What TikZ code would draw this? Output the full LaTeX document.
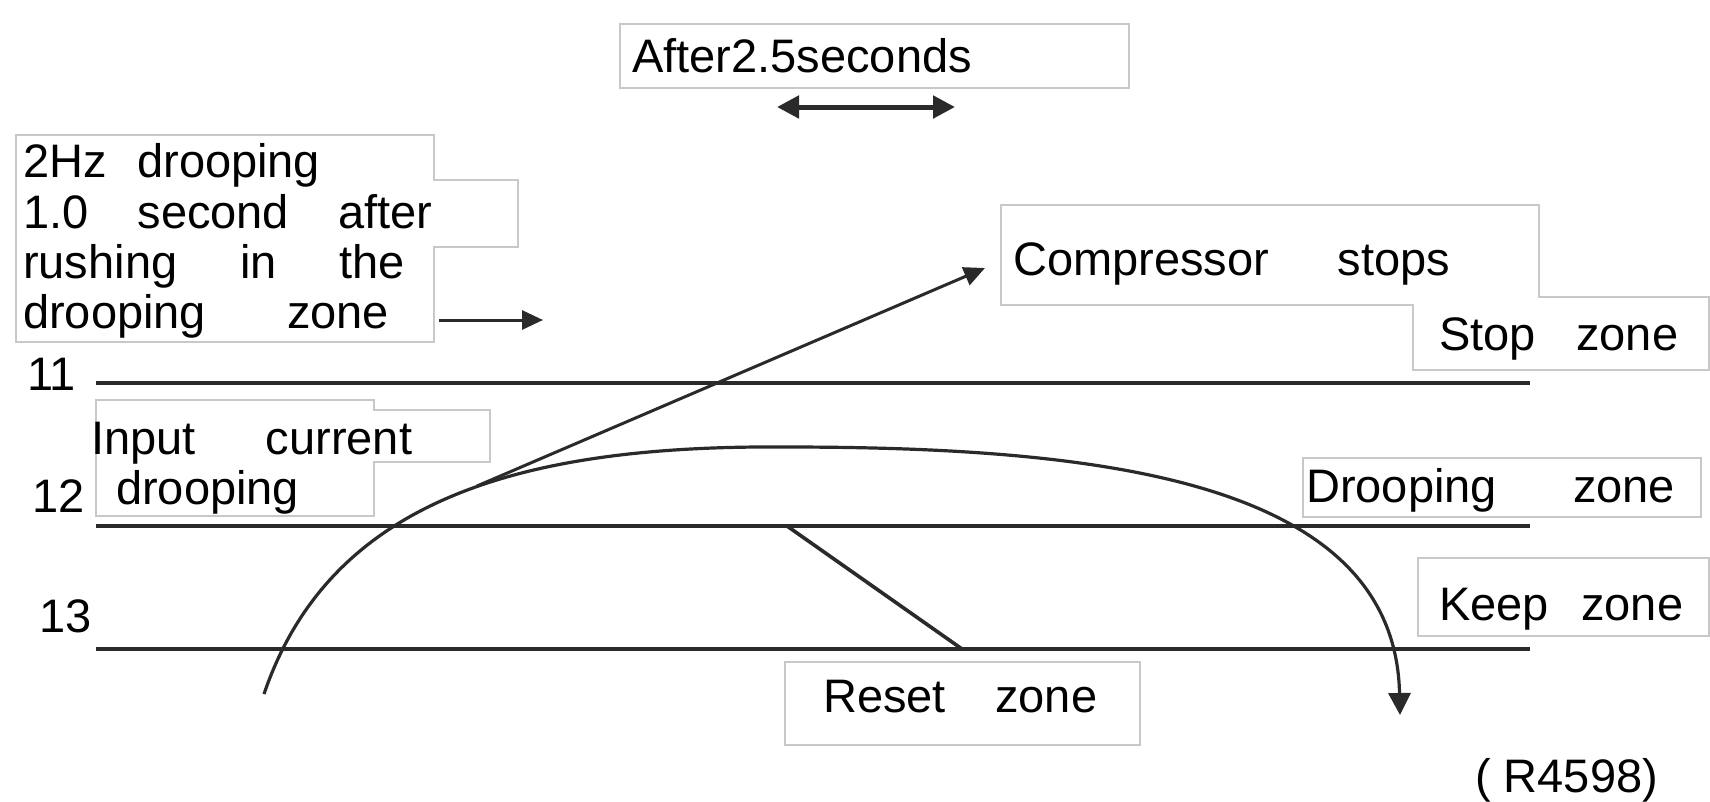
\documentclass[tikz,border=0pt]{standalone}
\usepackage{fontspec}
\setmainfont{Liberation Sans}
\usetikzlibrary{arrows.meta}
\definecolor{boxgray}{HTML}{C8C8C8}
\definecolor{linegray}{HTML}{2A2A2A}
\begin{document}
\begin{tikzpicture}[x=1pt,y=-1pt,
  lbl/.style={inner sep=0pt, anchor=base west, font=\fontsize{47}{51}\selectfont},
  frame/.style={draw=boxgray, line width=1.6pt},
  zline/.style={draw=linegray, line width=3.6pt},
  curveline/.style={draw=linegray, line width=3.2pt},
  arr/.style={draw=linegray, line width=3pt, -{Triangle[length=21pt,width=19pt]}},
  dblarr/.style={draw=linegray, line width=5pt, {Triangle[length=22pt,width=22pt]}-{Triangle[length=22pt,width=22pt]}}]
\useasboundingbox (0,0) rectangle (1710,801);
\fill[white] (0,0) rectangle (1710,801);

% frames
\draw[frame] (620,24) rectangle (1129,88);
\draw[frame] (16,135) -- (434,135) -- (434,180) -- (518,180) -- (518,247) -- (434,247) -- (434,342) -- (16,342) -- cycle;
\draw[frame] (96,400) -- (374,400) -- (374,410) -- (490,410) -- (490,462) -- (374,462) -- (374,516) -- (96,516) -- cycle;
\draw[frame] (1001,205) -- (1539,205) -- (1539,297) -- (1709,297) -- (1709,370) -- (1413,370) -- (1413,305) -- (1001,305) -- cycle;
\draw[frame] (1303,458) rectangle (1701,517);
\draw[frame] (1418,558) rectangle (1709,636);
\draw[frame] (785,662) rectangle (1140,745);

% texts
\node[lbl] (after) at (632,72) {After2.5seconds};
\node[lbl] (hzA) at (23,177) {\makebox[297pt][s]{2Hz\hfill drooping}};
\node[lbl] (hzB) at (23,228) {\makebox[409pt][s]{1.0\hfill second\hfill after}};
\node[lbl] (hzC) at (23,278) {\makebox[382pt][s]{rushing\hfill in\hfill the}};
\node[lbl] (hzD) at (23,328) {\makebox[366pt][s]{drooping\hfill zone}};
\node[lbl] (inA) at (91,454) {\makebox[321pt][s]{Input\hfill current}};
\node[lbl] (inB) at (116,504) {drooping};
\node[lbl] (l11) at (27,390) {11};
\node[lbl] (l12) at (32,512) {12};
\node[lbl] (l13) at (39,632) {13};
\node[lbl] (comp) at (1013,275) {\makebox[437pt][s]{Compressor\hfill stops}};
\node[lbl] (stopz) at (1439,350) {\makebox[239pt][s]{Stop\hfill zone}};
\node[lbl] (droopz) at (1306,502) {\makebox[369pt][s]{Drooping\hfill zone}};
\node[lbl] (keepz) at (1439,620) {\makebox[244pt][s]{Keep\hfill zone}};
\node[lbl] (resetz) at (823,712) {\makebox[274pt][s]{Reset\hfill zone}};
\node[lbl] (code) at (1475,792) {( R4598)};

% coordinates
\coordinate (a11) at (96,383);  \coordinate (b11) at (1530,383);
\coordinate (a12) at (96,526);  \coordinate (b12) at (1530,526);
\coordinate (a13) at (96,649);  \coordinate (b13) at (1530,649);
\coordinate (dA) at (787,526);  \coordinate (dB) at (962,649);
\coordinate (cs) at (264,694);  \coordinate (pk) at (785,447);
\coordinate (ce) at (1400,715); \coordinate (br) at (477,486);
\coordinate (ct) at (985,268);
\coordinate (hzE) at (439,320); \coordinate (hzT) at (543,320);
\coordinate (tA) at (777,107);  \coordinate (tB) at (955,107);

% zone lines
\draw[zline] (a11) -- (b11);
\draw[zline] (a12) -- (b12);
\draw[zline] (a13) -- (b13);
\draw[zline] (dA) -- (dB);

% current curve
\draw[curveline, -{Triangle[length=22pt,width=22pt]}] (cs) .. controls (330,500) and (520,445) .. (pk) .. controls (1100,447) and (1395,480) .. (ce);
\draw[arr] (br) -- (ct);
\draw[arr] (hzE) -- (hzT);
\draw[dblarr] (tA) -- (tB);
\end{tikzpicture}
\end{document}
